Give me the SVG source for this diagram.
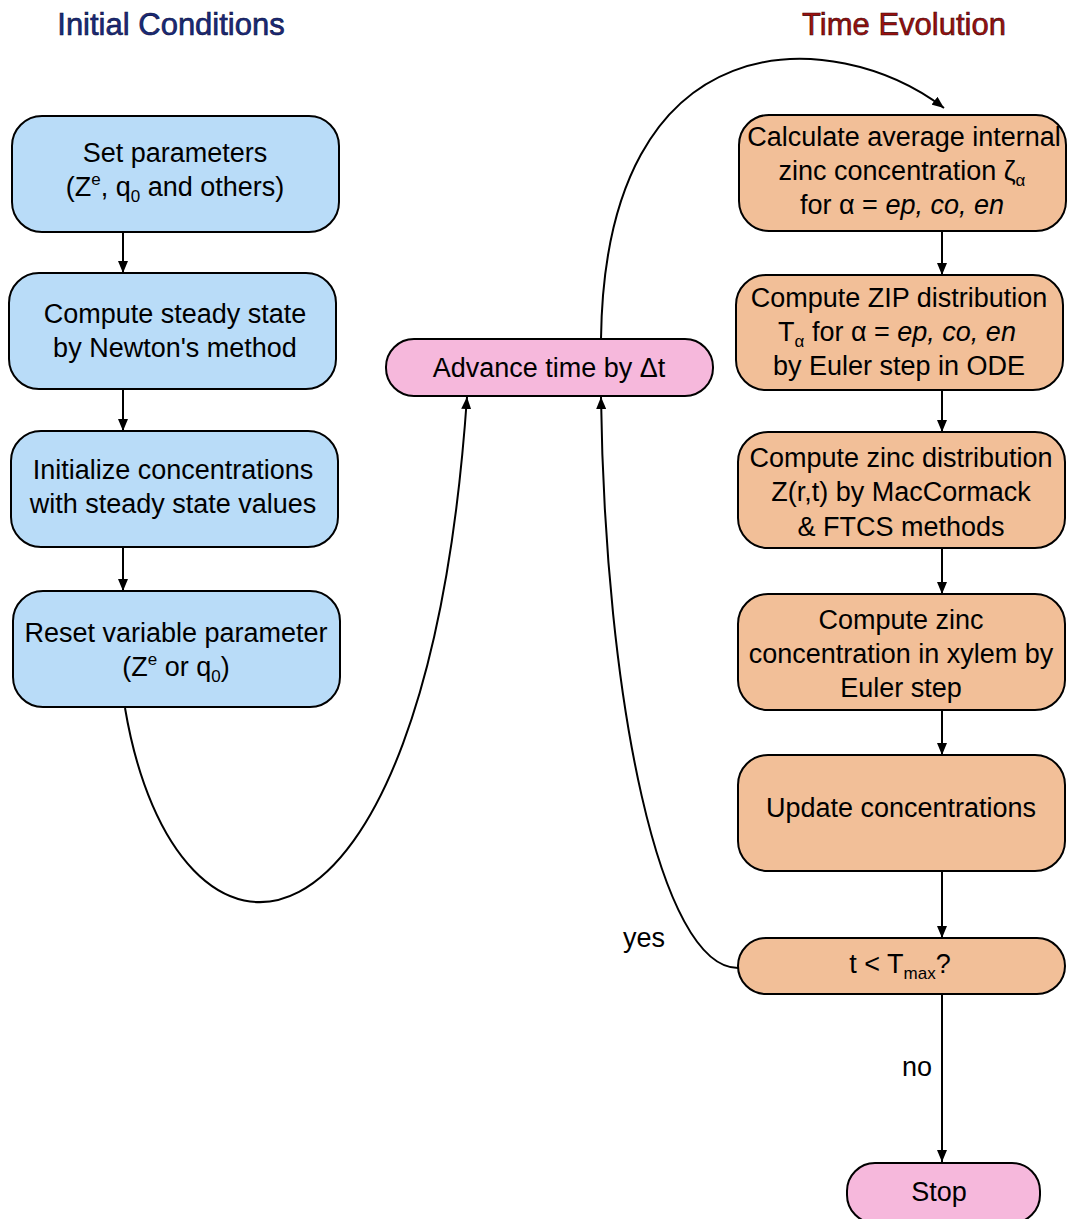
<svg xmlns="http://www.w3.org/2000/svg" width="1072" height="1219" viewBox="0 0 1072 1219">
<style>
text{font-family:"Liberation Sans",Arial,sans-serif;font-size:27px;fill:#000;text-anchor:middle}
.blue{fill:#b9dcf8;stroke:#000;stroke-width:2}
.orange{fill:#f2bf98;stroke:#000;stroke-width:2}
.pink{fill:#f6b8dc;stroke:#000;stroke-width:2}
.edge{fill:none;stroke:#000;stroke-width:2}
.title{font-size:31px;stroke-width:0.6}
.sub{font-size:17px}
</style>
<defs>
<marker id="arr" viewBox="0 0 12 10" refX="12" refY="5" markerWidth="12" markerHeight="10" markerUnits="userSpaceOnUse" orient="auto">
<path d="M0,0 L12,5 L0,10 z" fill="#000"/>
</marker>
</defs>

<text class="title" x="171" y="35" style="fill:#1a2a7a;stroke:#0a0f3a">Initial Conditions</text>
<text class="title" x="904" y="35" style="fill:#9b1010;stroke:#3a0505">Time Evolution</text>

<g id="connectors">
<path class="edge" d="M123,232 V273" marker-end="url(#arr)"/>
<path class="edge" d="M123,389 V431" marker-end="url(#arr)"/>
<path class="edge" d="M123,547 V591" marker-end="url(#arr)"/>
<path class="edge" d="M125,708 C175,1005 425,1005 467,397" marker-end="url(#arr)"/>
<path class="edge" d="M601,339 C605,15 835,25 944,108" marker-end="url(#arr)"/>
<path class="edge" d="M942,231 V275" marker-end="url(#arr)"/>
<path class="edge" d="M942,390 V432" marker-end="url(#arr)"/>
<path class="edge" d="M942,548 V594" marker-end="url(#arr)"/>
<path class="edge" d="M942,710 V755" marker-end="url(#arr)"/>
<path class="edge" d="M942,871 V938" marker-end="url(#arr)"/>
<path class="edge" d="M738,968 C660,968 605,700 601,397" marker-end="url(#arr)"/>
<path class="edge" d="M942,994 V1162" marker-end="url(#arr)"/>
<text x="644" y="947">yes</text>
<text x="917" y="1076">no</text>
</g>

<g id="n1">
<rect class="blue" x="12" y="116" width="327" height="116" rx="30"/>
<text x="175" y="162">Set parameters</text>
<text x="175" y="196">(Z<tspan class="sub" dy="-11">e</tspan><tspan dy="11">, q</tspan><tspan class="sub" dy="6">0</tspan><tspan dy="-6"> and others)</tspan></text>
</g>
<g id="n2">
<rect class="blue" x="9" y="273" width="327" height="116" rx="30"/>
<text x="175" y="323">Compute steady state</text>
<text x="175" y="357">by Newton's method</text>
</g>
<g id="n3">
<rect class="blue" x="11" y="431" width="327" height="116" rx="30"/>
<text x="173" y="479">Initialize concentrations</text>
<text x="173" y="513">with steady state values</text>
</g>
<g id="n4">
<rect class="blue" x="13" y="591" width="327" height="116" rx="30"/>
<text x="176" y="642">Reset variable parameter</text>
<text x="176" y="676">(Z<tspan class="sub" dy="-11">e</tspan><tspan dy="11"> or q</tspan><tspan class="sub" dy="6">0</tspan><tspan dy="-6">)</tspan></text>
</g>
<g id="n5">
<rect class="pink" x="386" y="339" width="327" height="57" rx="28"/>
<text x="549" y="377">Advance time by Δt</text>
</g>
<g id="n6">
<rect class="orange" x="739" y="115" width="327" height="116" rx="30"/>
<text x="904" y="146">Calculate average internal</text>
<text x="902" y="180">zinc concentration ζ<tspan class="sub" dy="6">α</tspan></text>
<text x="902" y="214">for α = <tspan font-style="italic">ep, co, en</tspan></text>
</g>
<g id="n7">
<rect class="orange" x="736" y="275" width="327" height="115" rx="30"/>
<text x="899" y="307">Compute ZIP distribution</text>
<text x="897" y="341">T<tspan class="sub" dy="6">α</tspan><tspan dy="-6"> for α = </tspan><tspan font-style="italic">ep, co, en</tspan></text>
<text x="899" y="375">by Euler step in ODE</text>
</g>
<g id="n8">
<rect class="orange" x="738" y="432" width="327" height="116" rx="30"/>
<text x="901" y="467">Compute zinc distribution</text>
<text x="901" y="501">Z(r,t) by MacCormack</text>
<text x="901" y="536">&amp; FTCS methods</text>
</g>
<g id="n9">
<rect class="orange" x="738" y="594" width="327" height="116" rx="30"/>
<text x="901" y="629">Compute zinc</text>
<text x="901" y="663">concentration in xylem by</text>
<text x="901" y="697">Euler step</text>
</g>
<g id="n10">
<rect class="orange" x="738" y="755" width="327" height="116" rx="30"/>
<text x="901" y="817">Update concentrations</text>
</g>
<g id="n11">
<rect class="orange" x="738" y="938" width="327" height="56" rx="28"/>
<text x="900" y="973">t &lt; T<tspan class="sub" dy="6">max</tspan><tspan dy="-6">?</tspan></text>
</g>
<g id="n12">
<rect class="pink" x="847" y="1163" width="193" height="60" rx="28"/>
<text x="939" y="1201">Stop</text>
</g>
</svg>
